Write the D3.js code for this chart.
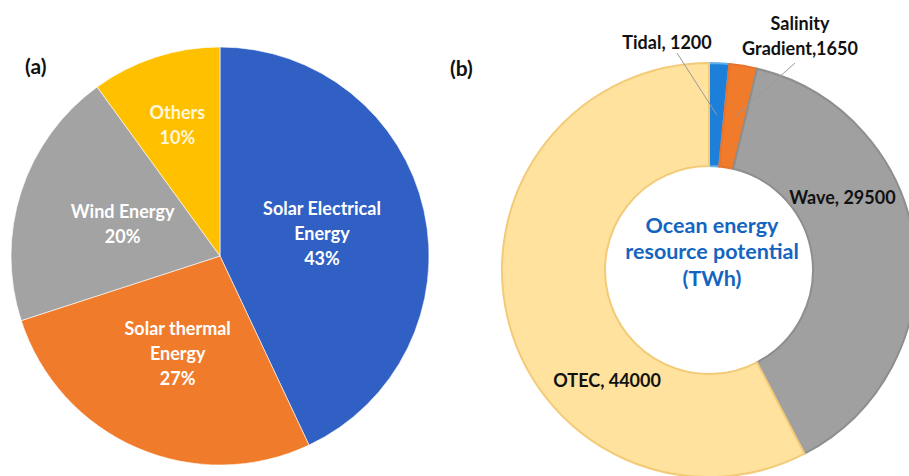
<!DOCTYPE html>
<html>
<head>
<meta charset="utf-8">
<script src="https://cdn.jsdelivr.net/npm/d3@7"></script>
<style>
  html, body { margin: 0; padding: 0; background: #fff; }
  svg { display: block; }
  text { font-family: Lato, "Open Sans", sans-serif; font-weight: 700; }
</style>
</head>
<body>
<svg id="chart" width="909" height="476"></svg>
<script>
// ---- Data ----
const shareCategories = ["Solar Electrical Energy", "Solar thermal Energy", "Wind Energy", "Others"];
const shareLabelLines = [["Solar Electrical", "Energy", "43%"], ["Solar thermal", "Energy", "27%"], ["Wind Energy", "20%"], ["Others", "10%"]];
const shareValues = [43, 27, 20, 10];

const oceanCategories = ["Tidal", "Salinity Gradient", "Wave", "OTEC"];
const oceanValues = [1200, 1650, 29500, 44000];
const oceanLabelLines = [["Tidal, 1200"], ["Salinity", "Gradient,1650"], ["Wave, 29500"], ["OTEC, 44000"]];
const centerTitle = ["Ocean energy", "resource potential", "(TWh)"];

// ---- Styles ----
const shareColors = ["#3060C4", "#F07B2A", "#A3A3A3", "#FFC000"];
const oceanColors = ["#1C80DA", "#F07B2A", "#A0A0A0", "#FFE29E"];
const oceanStrokes = ["#63AEEB", "#E8732A", "#8E8E8E", "#F3CB78"];

const svg = d3.select("#chart");

// ---- (a) Pie ----
const pieA = { cx: 220, cy: 256, r: 209 };
const gA = svg.append("g").attr("transform", `translate(${pieA.cx},${pieA.cy})`);
const pie = d3.pie().sort(null).value(d => d.value);
const arcsA = pie(shareCategories.map((c, i) => ({ name: c, value: shareValues[i], lines: shareLabelLines[i] })));
const arcA = d3.arc().innerRadius(0).outerRadius(pieA.r);

gA.selectAll("path.slice").data(arcsA).join("path")
  .attr("class", "slice")
  .attr("d", arcA)
  .attr("fill", (d, i) => shareColors[i])
  .attr("stroke", "#fff")
  .attr("stroke-width", 0.6);

const labelFactorA = [0.5, 0.51, 0.49, 0.66];
const lhA = 25;
arcsA.forEach((d, i) => {
  const a = (d.startAngle + d.endAngle) / 2;
  const rr = pieA.r * labelFactorA[i];
  const x = Math.sin(a) * rr, y = -Math.cos(a) * rr;
  const n = d.data.lines.length;
  const t = gA.append("text")
    .attr("text-anchor", "middle")
    .attr("fill", i === 3 ? "#FFF6DC" : "#FFFFFF")
    .attr("font-size", 18);
  d.data.lines.forEach((ln, k) => {
    t.append("tspan").attr("x", x).attr("y", y + (k - (n - 1) / 2) * lhA + 6.5).text(ln);
  });
});

svg.append("text").attr("x", 25).attr("y", 74).attr("font-size", 21).attr("fill", "#111").text("(a)");

// ---- (b) Donut ----
const dn = { cx: 709, cy: 270, r0: 104, r1: 207 };
const gB = svg.append("g").attr("transform", `translate(${dn.cx},${dn.cy})`);
const arcsB = pie(oceanCategories.map((c, i) => ({ name: c, value: oceanValues[i], lines: oceanLabelLines[i] })));
const arcB = d3.arc().innerRadius(dn.r0).outerRadius(dn.r1);

gB.selectAll("path.slice").data(arcsB).join("path")
  .attr("class", "slice")
  .attr("d", arcB)
  .attr("fill", (d, i) => oceanColors[i])
  .attr("stroke", (d, i) => oceanStrokes[i])
  .attr("stroke-width", 2);

// label layout relative to donut centre
const labelPosB = [
  { x: -42, y: -228, leader: [-32, -217] },
  { x: 91, y: -234.5, leader: [86, -207] },
  { angle: 61.4, r: 152 },
  { angle: 222.8, r: 150 }
];
const lhB = 25;
arcsB.forEach((d, i) => {
  const p = labelPosB[i];
  let x, y;
  if (p.angle !== undefined) {
    const a = p.angle * Math.PI / 180;
    x = Math.sin(a) * p.r; y = -Math.cos(a) * p.r;
  } else { x = p.x; y = p.y; }
  if (p.leader) {
    const c = arcB.centroid(d);
    gB.append("line")
      .attr("x1", c[0]).attr("y1", c[1])
      .attr("x2", p.leader[0]).attr("y2", p.leader[1])
      .attr("stroke", "#9a9a9a").attr("stroke-width", 1);
  }
  const n = d.data.lines.length;
  const t = gB.append("text").attr("text-anchor", "middle").attr("fill", "#111").attr("font-size", 18);
  d.data.lines.forEach((ln, k) => {
    t.append("tspan").attr("x", x).attr("y", y + (k - (n - 1) / 2) * lhB + 6.5).text(ln);
  });
});

const ct = gB.append("text").attr("text-anchor", "middle").attr("fill", "#1565C0").attr("font-size", 21.5);
centerTitle.forEach((ln, k) => {
  ct.append("tspan").attr("x", 3).attr("y", -45 + k * 26.5 + 7.5).text(ln);
});

svg.append("text").attr("x", 450).attr("y", 76).attr("font-size", 21).attr("fill", "#111").text("(b)");
</script>
</body>
</html>
